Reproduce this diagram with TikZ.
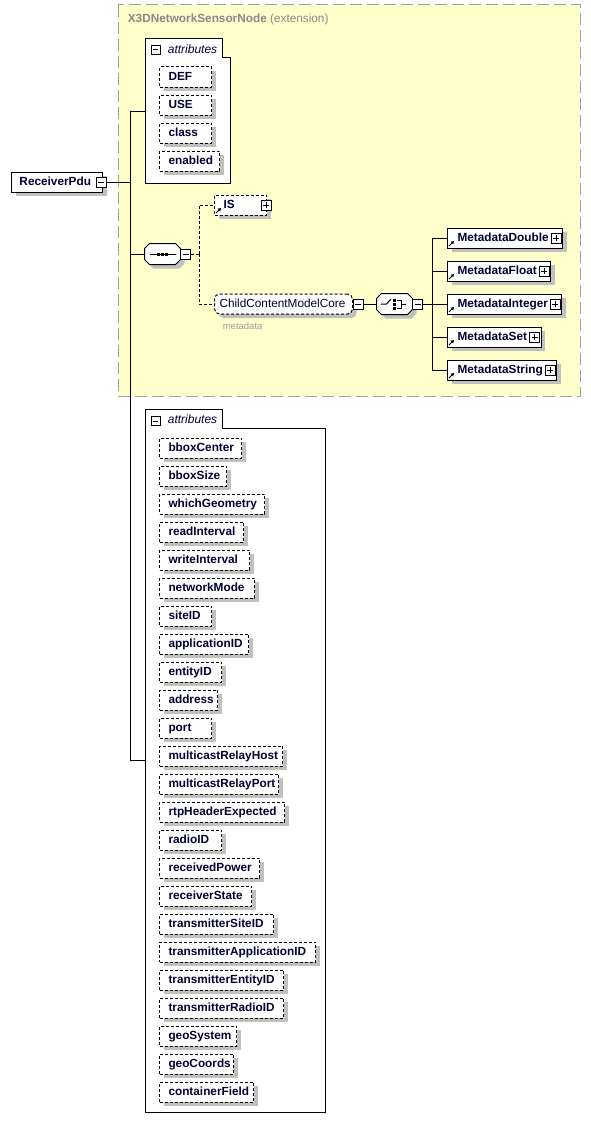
\documentclass[tikz,border=0pt]{standalone}
\usepackage{fontspec}
\setmainfont{Liberation Sans}
\usetikzlibrary{shadows,arrows.meta}

\definecolor{extfill}{HTML}{FFFFCC}
\definecolor{extborder}{HTML}{A0A0A0}
\definecolor{shadowgray}{HTML}{C0C0C0}
\definecolor{labelblue}{HTML}{000033}
\definecolor{titlegray}{HTML}{888888}
\definecolor{notegray}{HTML}{A0A0A0}

\tikzset{
  every node/.style={text=labelblue},
  boxshadow/.style={general shadow={fill=shadowgray, shadow xshift=4pt, shadow yshift=-4pt}},
  namefont/.style={font=\fontsize{11.8}{13}\selectfont\bfseries},
  elembox/.style={draw, fill=white, boxshadow, namefont, anchor=west, inner xsep=0pt, inner ysep=0pt,
    minimum height=20pt, text height=9pt, text depth=2pt},
  dashline/.style={dash pattern=on 3pt off 2pt},
  attrbox/.style={elembox, dashline},
  togglebox/.style={draw, solid, fill=white, minimum size=10pt, inner sep=0pt},
  collapsebox/.style={togglebox, path picture={
    \draw ([xshift=2pt]path picture bounding box.west) -- ([xshift=-2pt]path picture bounding box.east);}},
  expandbox/.style={togglebox, path picture={
    \draw ([xshift=2pt]path picture bounding box.west) -- ([xshift=-2pt]path picture bounding box.east);
    \draw ([yshift=-2pt]path picture bounding box.north) -- ([yshift=2pt]path picture bounding box.south);}},
  refarrow/.style={-{Triangle[length=3pt,width=3.5pt]}, line width=1pt},
  compnode/.style={inner sep=0pt, minimum width=35pt, minimum height=20pt},
  octpath/.style={insert path={([yshift=-5pt]#1.north west) -- ([xshift=5pt]#1.north west)
    -- ([xshift=-5pt]#1.north east) -- ([yshift=-5pt]#1.north east) -- ([yshift=5pt]#1.south east)
    -- ([xshift=-5pt]#1.south east) -- ([xshift=5pt]#1.south west) -- ([yshift=5pt]#1.south west) -- cycle}},
  grouplabel/.style={anchor=base west, font=\fontsize{12}{13}\selectfont\itshape},
}

\begin{document}
\begin{tikzpicture}[x=1pt, y=-1pt, line width=1pt]
    \useasboundingbox (0,0) rectangle (590,1132);

    % Extension area of the base type
    \draw[fill=extfill, draw=extborder, dash pattern=on 12pt off 5pt] (118,5) rectangle (580,396);
    \node[anchor=base west, text=titlegray, font=\fontsize{11.8}{13}\selectfont] (extname) at (124,23)
        {\textbf{X3DNetworkSensorNode} (extension)};

    % Attribute groups
    \draw[fill=white] (145,39) -- (222,39) -- (222,58) -- (230,58) -- (230,183) -- (145,183) -- cycle;
    \node[collapsebox, minimum size=9pt] (topcol) at (155.5,50) {};
    \node[grouplabel] (toplabel) at (164,53) {attributes};
    \coordinate (topattr) at (145,111);

    \draw[fill=white] (145,409) -- (222,409) -- (222,428) -- (325,428) -- (325,1112) -- (145,1112) -- cycle;
    \node[collapsebox, minimum size=9pt] (botcol) at (155.5,421) {};
    \node[grouplabel] (botlabel) at (164,423) {attributes};
    \coordinate (botattr) at (145,760);

    % Inherited attributes
    \foreach \name/\w [count=\i from 0] in {DEF/52, USE/52, class/52, enabled/60}
        \node[attrbox] (\name) at (159,{77+28*\i}) {\hbox to \w pt{\hskip 9pt\name\hfil}};

    % Own attributes
    \foreach \name/\w [count=\i from 0] in {bboxCenter/82, bboxSize/67, whichGeometry/105, readInterval/84,
        writeInterval/90, networkMode/95, siteID/52, applicationID/89, entityID/62, address/58, port/52,
        multicastRelayHost/123, multicastRelayPort/119, rtpHeaderExpected/125, radioID/62,
        receivedPower/100, receiverState/92, transmitterSiteID/114, transmitterApplicationID/156,
        transmitterEntityID/124, transmitterRadioID/124, geoSystem/77, geoCoords/74, containerField/94}
        \node[attrbox] (\name) at (159,{448+28*\i}) {\hbox to \w pt{\hskip 9pt\name\hfil}};

    % Root element
    \node[elembox] (rpdu) at (11,182) {\hbox to 91pt{\hskip 8pt ReceiverPdu\hfil}};
    \node[collapsebox] (rpducol) at (101,182) {};
    \coordinate (trunk) at (130,182);
    \coordinate (trunktop) at (130,111);
    \coordinate (trunkbot) at (130,760);
    \draw (rpducol.east) -- (trunk);
    \draw (topattr) -- (trunktop) -- (trunkbot) -- (botattr);

    % Sequence compositor
    \node[compnode] (seq) at (162.5,254) {};
    \path[fill=shadowgray, transform canvas={shift={(4pt,-4pt)}}, octpath=seq];
    \path[draw, fill=white, octpath=seq];
    \draw ([xshift=5pt]seq.west) -- ([xshift=-5pt]seq.east);
    \foreach \dx in {-4,0,4}
        \fill ([xshift=\dx pt]seq.center) +(-1.5,-1.5) rectangle +(1.5,1.5);
    \node[collapsebox] (seqcol) at ([xshift=5pt]seq.east) {};
    \draw (seq.west -| trunk) -- (seq.west);
    \coordinate (seqjoin) at (199,254);

    % Optional children
    \node[attrbox] (IS) at (214,205) {\hbox to 52pt{\hskip 9pt IS\hfil}};
    \node[expandbox] (ISexp) at ([xshift=-1pt]IS.east) {};
    \draw[refarrow] ([shift={(2pt,2.5pt)}]IS.south west) -- ++(5pt,5pt);

    \node[attrbox, rounded corners=5pt, font=\fontsize{11.8}{13}\selectfont] (ccmc) at (214,304)
        {\hbox to 138pt{\hskip 5pt ChildContentModelCore\hfil}};
    \node[collapsebox] (ccmccol) at ([xshift=5pt]ccmc.east) {};
    \node[anchor=base west, text=notegray, font=\fontsize{9.5}{11}\selectfont] (mdlabel) at (219,329) {metadata};

    \draw[dashline] (seqcol.east) -- (seqjoin);
    \draw[dashline] (seqjoin) |- (IS.west);
    \draw[dashline] (seqjoin) |- (ccmc.west);

    % Choice compositor
    \node[compnode] (choice) at (394.5,304) {};
    \path[fill=shadowgray, transform canvas={shift={(4pt,-4pt)}}, octpath=choice];
    \path[draw, fill=white, octpath=choice];
    \begin{scope}[shift={(choice.center)}]
        \draw (-14,0) -- (-8,0) -- (-3.5,-5);
        \foreach \dy in {-4,0,4}
            \fill (-0.5,\dy) +(-1.5,-1.5) rectangle +(1.5,1.5);
        \draw (2.5,-4) -- (6.5,-4) -- (6.5,4) -- (2.5,4);
        \draw (6.5,0) -- (11,0);
    \end{scope}
    \node[collapsebox] (choicecol) at ([xshift=5pt]choice.east) {};
    \coordinate (choicejoin) at (432,304);
    \draw (ccmccol.east) -- (choice.west);
    \draw (choicecol.east) -- (choicejoin);

    % Metadata elements
    \foreach \name [count=\i from 0] in {MetadataDouble, MetadataFloat, MetadataInteger,
        MetadataSet, MetadataString} {
        \node[elembox] (\name) at (447,{238+33*\i}) {\hbox{\hskip 10pt\name\hskip 14pt}};
        \node[expandbox] at ([xshift=-7pt]\name.east) {};
        \draw[refarrow] ([shift={(2pt,2.5pt)}]\name.south west) -- ++(5pt,5pt);
        \draw (choicejoin) |- (\name.west);
    }
\end{tikzpicture}
\end{document}
